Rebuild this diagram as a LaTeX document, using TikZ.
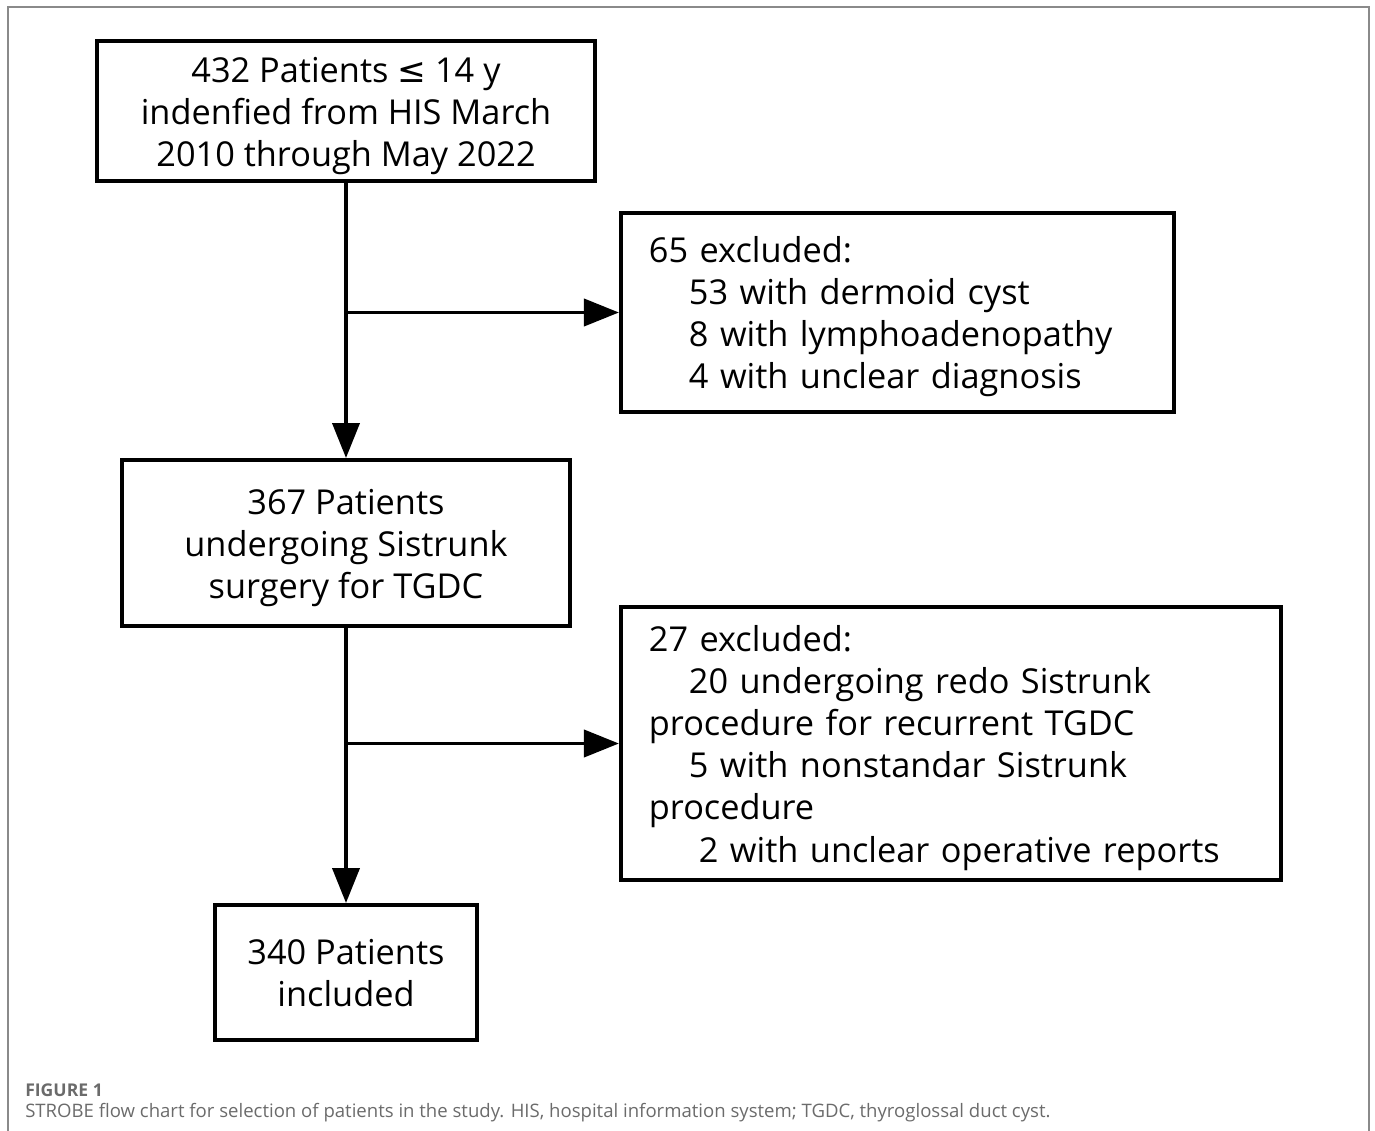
\documentclass[tikz,border=0pt]{standalone}
\usepackage{fontspec}
\setmainfont{Open Sans}
\newfontfamily\symfont{DejaVu Sans}
\usepackage{xcolor}
\definecolor{frame}{HTML}{8A8A8A}
\definecolor{captext}{HTML}{6B6B6B}
\usepackage{tikz}
\usetikzlibrary{arrows.meta, positioning, calc}
% rows of a box, set a little lower than the box centre
\newcommand{\boxrows}[2]{\raisebox{-0.125cm}[\height][\depth]{%
  \begin{tabular}{@{}#1@{}}#2\end{tabular}}}

\begin{document}
\begin{tikzpicture}[x=0.025cm, y=-0.025cm,
    box/.style={draw, line width=2.8pt, inner sep=0pt,
      font=\fontsize{24.4}{29.9}\selectfont},
    exclbox/.style={draw, line width=2.8pt, align=left, inner xsep=0.7cm,
      inner ysep=0pt, font=\fontsize{24.4}{29.9}\selectfont},
    arr/.style={-{Triangle[length=8.75mm, width=6.75mm]}, line width=2.8pt}]

  \useasboundingbox (0,0) rectangle (1375,1131);

  % outer frame, open at the bottom
  \draw[frame, line width=1.2pt] (8,1131) -- (8,7) -- (1369,7) -- (1369,1131);

  \node[box, minimum width=12.45cm, minimum height=3.5cm] (pat1) at (346,111)
    {\boxrows{c}{432 Patients {\symfont ≤} 14 y\\indenfied from HIS March\\2010 through May 2022}};

  \node[exclbox, minimum width=13.825cm, minimum height=4.975cm,
        text width=12.425cm] (excl1) at (897.5,312.5)
    {\boxrows{l}{65 excluded:\\
     \hspace*{1cm}53 with dermoid cyst\\
     \hspace*{1cm}8 with lymphoadenopathy\\
     \hspace*{1cm}4 with unclear diagnosis}};

  \node[box, minimum width=11.2cm, minimum height=4.15cm] (pat2) at (346,543)
    {\boxrows{c}{367 Patients\\undergoing Sistrunk\\surgery for TGDC}};

  \node[exclbox, minimum width=16.5cm, minimum height=6.825cm,
        text width=15.1cm] (excl2) at (951,743.5)
    {\boxrows{l}{27 excluded:\\
     \hspace*{1cm}20 undergoing redo Sistrunk\\
     procedure for recurrent TGDC\\
     \hspace*{1cm}5 with nonstandar Sistrunk\\
     procedure\\
     \hspace*{1.25cm}2 with unclear operative reports}};

  \node[box, minimum width=6.55cm, minimum height=3.375cm] (pat3) at (346,972.5)
    {\boxrows{c}{340 Patients\\included}};

  \coordinate (split1) at (pat1 |- excl1);
  \coordinate (split2) at (pat2 |- excl2);

  \draw[arr] (pat1) -- (pat2);
  \draw[arr] (split1) -- (excl1.west);
  \draw[arr] (pat2) -- (pat3);
  \draw[arr] (split2) -- (excl2.west);

  % caption
  \node[anchor=west, inner sep=0pt, text=captext,
        font=\fontsize{12.5}{14}\selectfont\bfseries] (figlabel) at (25,1090) {FIGURE 1};
  \node[anchor=west, inner sep=0pt, text=captext,
        font=\fontsize{13.2}{15}\selectfont] (figcap) at (25,1113)
    {STROBE flow chart for selection of patients in the study. HIS, hospital information system; TGDC, thyroglossal duct cyst.};

\end{tikzpicture}
\end{document}
